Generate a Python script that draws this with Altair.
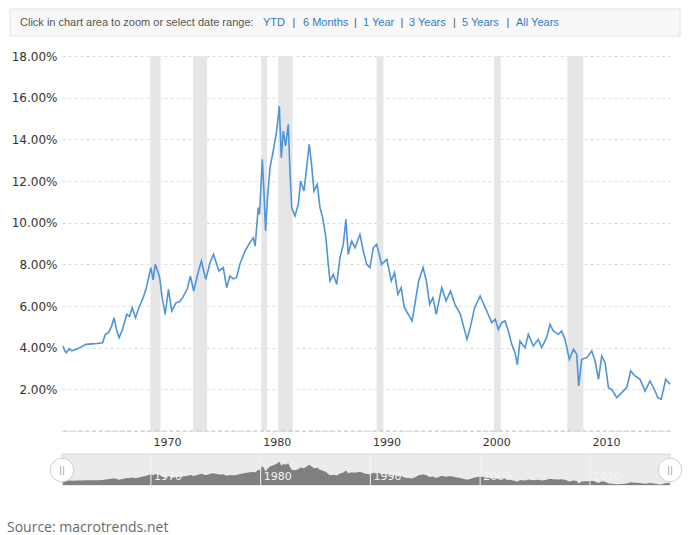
import altair as alt
import pandas as pd

# ---------------- data ----------------
years = [
    1962.00, 1962.15, 1962.30, 1962.55, 1962.80, 1963.20, 1963.70, 1964.10, 1964.60, 1965.10,
    1965.60, 1965.85, 1966.10, 1966.40, 1966.65, 1966.85, 1967.10, 1967.40, 1967.80, 1968.05,
    1968.30, 1968.60, 1968.90, 1969.30, 1969.60, 1969.85, 1970.00, 1970.20, 1970.40, 1970.60,
    1970.80, 1971.00, 1971.30, 1971.60, 1971.90, 1972.30, 1972.60, 1972.90, 1973.30, 1973.60,
    1973.90, 1974.30, 1974.60, 1975.00, 1975.40, 1975.70, 1976.00, 1976.20, 1976.60, 1976.90,
    1977.20, 1977.50, 1977.80, 1978.11, 1978.57, 1979.02, 1979.33, 1979.50, 1979.78, 1979.90,
    1980.15, 1980.30, 1980.45, 1980.60, 1980.85, 1981.15, 1981.46, 1981.70, 1981.88, 1982.06,
    1982.27, 1982.52, 1982.67, 1982.83, 1983.13, 1983.43, 1983.64, 1983.95, 1984.19, 1984.43,
    1984.64, 1984.86, 1985.16, 1985.41, 1985.65, 1985.95, 1986.16, 1986.32, 1986.62, 1986.93,
    1987.23, 1987.53, 1987.77, 1987.98, 1988.29, 1988.60, 1989.05, 1989.35, 1989.66, 1989.96,
    1990.27, 1990.57, 1990.88, 1991.00, 1991.50, 1991.90, 1992.20, 1992.50, 1992.80, 1993.10,
    1993.80, 1994.00, 1994.40, 1994.80, 1995.10, 1995.40, 1995.70, 1996.00, 1996.50, 1996.90,
    1997.30, 1997.70, 1998.20, 1998.80, 1999.10, 1999.50, 2000.00, 2000.20, 2000.60, 2001.06,
    2001.37, 2001.66, 2001.97, 2002.27, 2002.57, 2002.88, 2003.18, 2003.39, 2003.63, 2004.09,
    2004.39, 2004.85, 2005.30, 2005.61, 2006.06, 2006.37, 2006.67, 2007.13, 2007.43, 2007.73,
    2008.13, 2008.50, 2008.80, 2008.98, 2009.25, 2009.72, 2010.17, 2010.48, 2010.78, 2011.08,
    2011.39, 2011.69, 2011.99, 2012.45, 2012.90, 2013.36, 2013.72, 2014.12, 2014.57, 2015.03,
    2015.48, 2015.94, 2016.19, 2016.50, 2016.91, 2017.30,
]
rates = [
    4.08, 3.85, 3.76, 3.95, 3.85, 3.92, 4.05, 4.16, 4.18, 4.20,
    4.24, 4.64, 4.70, 5.00, 5.44, 4.90, 4.48, 4.85, 5.60, 5.50,
    5.92, 5.44, 5.92, 6.40, 6.90, 7.50, 7.84, 7.25, 8.00, 7.70,
    7.36, 6.50, 5.60, 6.80, 5.76, 6.16, 6.20, 6.40, 6.80, 7.44,
    6.72, 7.60, 8.16, 7.28, 8.10, 8.48, 8.00, 7.68, 7.84, 6.88,
    7.44, 7.30, 7.36, 8.00, 8.64, 9.04, 9.28, 8.88, 10.72, 10.40,
    13.04, 11.52, 9.60, 11.04, 12.64, 13.44, 14.40, 15.60, 13.12, 14.40,
    13.68, 14.72, 12.48, 10.72, 10.32, 10.88, 12.00, 11.52, 12.64, 13.76,
    12.80, 11.52, 11.84, 10.72, 10.24, 9.28, 8.00, 7.20, 7.52, 7.04,
    8.32, 8.96, 10.16, 8.48, 9.12, 8.80, 9.44, 8.64, 8.00, 7.84,
    8.80, 8.96, 8.32, 8.00, 8.24, 7.20, 7.60, 6.56, 6.88, 5.92,
    5.28, 5.92, 7.20, 7.84, 7.20, 6.08, 6.40, 5.60, 6.88, 6.24,
    6.72, 6.08, 5.60, 4.40, 4.96, 5.92, 6.48, 6.24, 5.76, 5.20,
    5.36, 4.88, 5.20, 5.28, 4.80, 4.16, 3.76, 3.17, 4.32, 4.00,
    4.64, 4.08, 4.40, 4.00, 4.48, 5.12, 4.80, 4.64, 4.80, 4.40,
    3.44, 3.92, 3.68, 2.16, 3.44, 3.52, 3.84, 3.36, 2.48, 3.60,
    3.28, 2.08, 2.00, 1.60, 1.84, 2.08, 2.88, 2.64, 2.48, 1.92,
    2.40, 1.92, 1.60, 1.52, 2.48, 2.24,
]
recession_start = [1969.95, 1973.85, 1980.06, 1981.60, 1990.57, 2001.26, 2007.95]
recession_end = [1970.88, 1975.12, 1980.58, 1982.91, 1991.18, 2001.87, 2009.41]
decades = [1970, 1980, 1990, 2000, 2010]
y_ticks = [0, 2, 4, 6, 8, 10, 12, 14, 16, 18]
header_prompt = "Click in chart area to zoom or select date range:"
header_links = ["YTD", "6 Months", "1 Year", "3 Years", "5 Years", "All Years"]
source_text = "Source: macrotrends.net"

# ---------------- layout ----------------
X_DOMAIN = [1961.9, 2017.3]
W, H = 608, 375
NAV_DOMAIN = [1.2, 20.4]
NAV_RANGE = [429, 398]  # pixels below plot top (navigator strip)

df = pd.DataFrame({"year": years, "rate": rates})
rec = pd.DataFrame({"start": recession_start, "end": recession_end})
dec = pd.DataFrame({"decade": decades, "label": [str(d) for d in decades]})
ends = pd.DataFrame({"x": X_DOMAIN})
one = pd.DataFrame({"k": [0]})

xs = alt.Scale(domain=X_DOMAIN, nice=False, zero=False)
ys = alt.Scale(domain=[0, 18], nice=False, zero=False)
navs = alt.Scale(domain=NAV_DOMAIN, range=NAV_RANGE, nice=False, zero=False)

LINE_BLUE = "#4e94db"

bands = alt.Chart(rec).mark_rect(color="#e6e6e6").encode(
    x=alt.X("start:Q", scale=xs, title=None),
    x2="end:Q",
    y=alt.YDatum(0, scale=ys, title=None),
    y2=alt.datum(18),
)

zero_rule = alt.Chart(pd.DataFrame({"v": [0]})).mark_rule(
    color="#c4c4c4", strokeDash=[4, 3], strokeWidth=1
).encode(y=alt.Y("v:Q", scale=ys, title=None))

line = alt.Chart(df).mark_line(color=LINE_BLUE, strokeWidth=1.6).encode(
    x=alt.X(
        "year:Q", scale=xs, title=None,
        axis=alt.Axis(values=decades, format="d", labelAlign="left", labelOffset=2,
                      grid=False, ticks=False, domain=False, labelPadding=5,
                      labelFontSize=11, labelFont="DejaVu Sans", labelColor="#333333"),
    ),
    y=alt.Y(
        "rate:Q", scale=ys, title=None,
        axis=alt.Axis(values=y_ticks,
                      labelExpr="datum.value == 0 ? '' : format(datum.value, '.2f') + '%'",
                      grid=True, gridDash=[3, 3], gridColor="#dcdcdc", ticks=False,
                      domain=False, labelPadding=5, labelFontSize=12,
                      labelFont="DejaVu Sans", labelColor="#333333"),
    ),
)

main = alt.layer(bands, zero_rule, line)

# ---------------- navigator ----------------
nav_bg = alt.Chart(pd.DataFrame({"a": [X_DOMAIN[0]], "b": [X_DOMAIN[1]]})).mark_rect(
    fill="#ebebeb", stroke="#d8d8d8", strokeWidth=1
).encode(
    x=alt.X("a:Q", scale=xs, title=None),
    x2="b:Q",
    y=alt.YDatum(NAV_DOMAIN[1], scale=navs, axis=None),
    y2=alt.datum(NAV_DOMAIN[0]),
)
nav_area = alt.Chart(df).mark_area(color="#808080").encode(
    x=alt.X("year:Q", scale=xs, title=None),
    y=alt.Y("rate:Q", scale=navs, axis=None),
    y2=alt.datum(NAV_DOMAIN[0]),
)
nav_rules = alt.Chart(dec).mark_rule(color="#f2f2f2", strokeWidth=1).encode(
    x=alt.X("decade:Q", scale=xs, title=None),
    y=alt.YDatum(NAV_DOMAIN[0], scale=navs, axis=None),
    y2=alt.datum(NAV_DOMAIN[1]),
)
nav_labels = alt.Chart(dec).mark_text(
    align="left", baseline="middle", dx=3, font="DejaVu Sans", fontSize=11, color="#f4f4f4"
).encode(
    x=alt.X("decade:Q", scale=xs, title=None),
    y=alt.YDatum(6.2, scale=navs, axis=None),
    text="label:N",
)
handles = alt.Chart(ends).mark_point(
    shape="circle", filled=True, fill="#ffffff", stroke="#cfcfcf", strokeWidth=1,
    size=560, opacity=1
).encode(
    x=alt.X("x:Q", scale=xs, title=None),
    y=alt.YDatum(10.5, scale=navs, axis=None),
)
handle_marks = alt.Chart(ends).mark_text(
    text="||", font="DejaVu Sans", fontSize=9, color="#a0a0a0", baseline="middle"
).encode(
    x=alt.X("x:Q", scale=xs, title=None),
    y=alt.YDatum(10.5, scale=navs, axis=None),
)
nav = alt.layer(nav_bg, nav_area, nav_rules, nav_labels, handles, handle_marks)

# ---------------- header and source ----------------
hdr_box = alt.Chart(one).mark_rect(fill="#f8f8f8", stroke="#e2e2e2", strokeWidth=1).encode(
    x=alt.value(-52), x2=alt.value(618), y=alt.value(-47), y2=alt.value(-20)
)
HDR_Y = -33.5
hdr_layers = [hdr_box, alt.Chart(one).mark_text(
    text=header_prompt, align="left", baseline="middle", font="Liberation Sans",
    fontSize=11, color="#555555").encode(x=alt.value(-42), y=alt.value(HDR_Y))]
link_x = [201, 241, 301, 347, 400, 454]
sep_x = [232, 293.5, 340, 392.5, 446]
for lbl, lx in zip(header_links, link_x):
    hdr_layers.append(alt.Chart(one).mark_text(
        text=lbl, align="left", baseline="middle", font="Liberation Sans",
        fontSize=11, color="#2f7bc4").encode(x=alt.value(lx), y=alt.value(HDR_Y)))
for sx in sep_x:
    hdr_layers.append(alt.Chart(one).mark_text(
        text="|", align="center", baseline="middle", font="Liberation Sans",
        fontSize=11, color="#555555").encode(x=alt.value(sx), y=alt.value(HDR_Y)))

source = alt.Chart(one).mark_text(
    text=source_text, align="left", baseline="alphabetic", font="Open Sans",
    fontSize=14, color="#6b6b6b"
).encode(x=alt.value(-55), y=alt.value(476))

chart = alt.layer(main, nav, source, *hdr_layers).resolve_scale(
    y="independent"
).properties(
    width=W, height=H, padding={"left": 7, "top": 8, "right": 5, "bottom": 2},
    background="#ffffff",
).configure_view(stroke=None)

chart.save("out.html", embed_options={"renderer": "svg", "actions": False})
